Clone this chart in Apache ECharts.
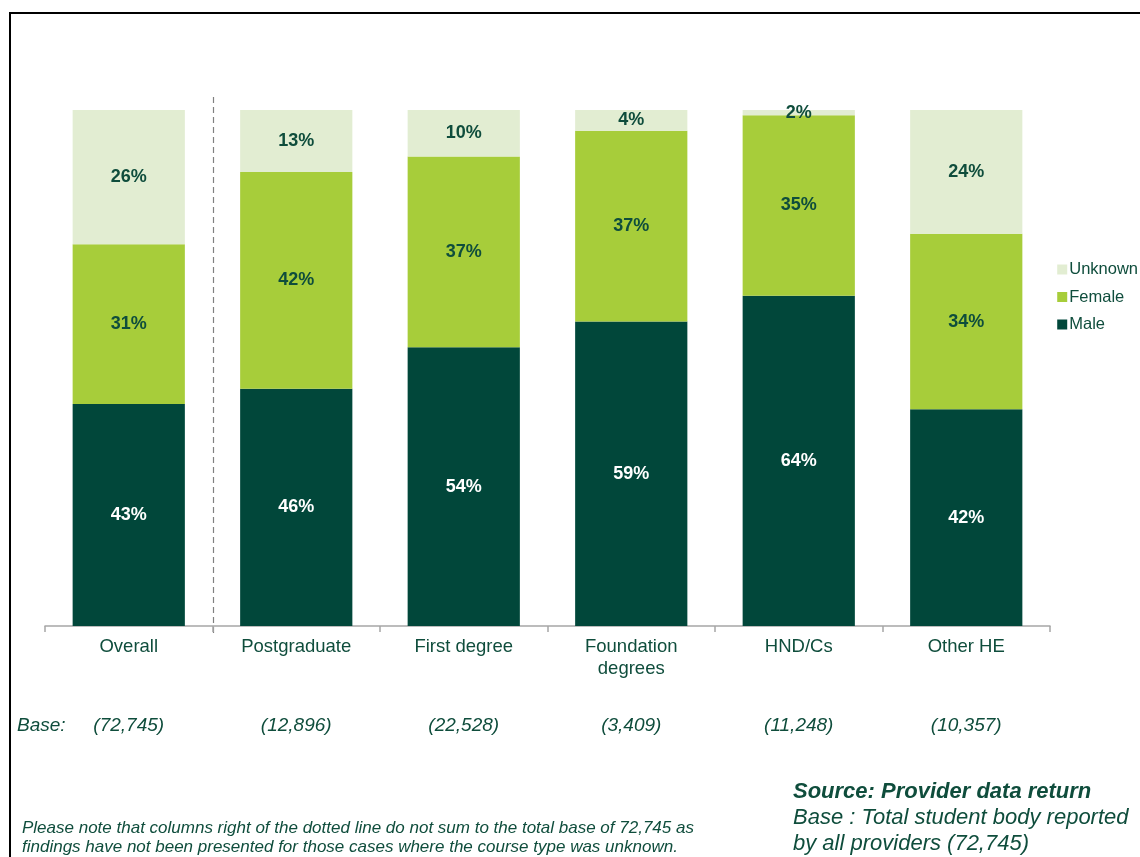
<!DOCTYPE html>
<html>
<head>
<meta charset="utf-8">
<script src="https://cdn.jsdelivr.net/npm/echarts@6/dist/echarts.min.js"></script>
<style>
  html, body { margin: 0; padding: 0; background: #fff; }
  #chart { width: 1140px; height: 857px; }
</style>
</head>
<body>
<div id="chart"></div>
<script>
// Course types and their student bases
const categories = ['Overall', 'Postgraduate', 'First degree', 'Foundation\ndegrees', 'HND/Cs', 'Other HE'];
const baseLabels = ['(72,745)', '(12,896)', '(22,528)', '(3,409)', '(11,248)', '(10,357)'];

// Share of students by gender (%)
const male    = [43, 46, 54, 59, 64, 42];
const female  = [31, 42, 37, 37, 35, 34];
const unknown = [26, 13, 10, 4, 2, 24];

const TEXT = '#0f4d3c';
const FONT = '"Liberation Sans", Arial, sans-serif';

const chart = echarts.init(document.getElementById('chart'));

function seg(name, data, color, labelColor) {
  return {
    name: name,
    type: 'bar',
    stack: 'total',
    data: data,
    barWidth: '67%',
    itemStyle: { color: color },
    label: {
      show: true,
      position: 'inside',
      formatter: '{c}%',
      color: labelColor,
      fontFamily: FONT,
      fontWeight: 'bold',
      fontSize: 18
    },
    emphasis: { disabled: true }
  };
}

chart.setOption({
  animation: false,
  textStyle: { fontFamily: FONT },
  grid: { left: 45, right: 90, top: 110, bottom: 231, containLabel: false },
  legend: {
    orient: 'vertical',
    right: -3,
    top: 256,
    itemWidth: 10,
    itemHeight: 10,
    itemGap: 10.5,
    icon: 'rect',
    data: ['Unknown', 'Female', 'Male'],
    textStyle: { color: TEXT, fontSize: 16.5, fontFamily: FONT, padding: [0, 0, 0, -3] }
  },
  xAxis: [
    {
      type: 'category',
      data: categories,
      axisLine: { lineStyle: { color: '#a6a6a6', width: 1.5 } },
      axisTick: { show: true, length: 6, lineStyle: { color: '#a6a6a6', width: 1.5 } },
      axisLabel: { color: TEXT, fontSize: 18.5, fontFamily: FONT, margin: 10, lineHeight: 22 }
    },
    {
      type: 'category',
      data: baseLabels,
      position: 'bottom',
      offset: 82,
      axisLine: { show: false },
      axisTick: { show: false },
      axisLabel: { color: TEXT, fontSize: 19, fontStyle: 'italic', fontFamily: FONT }
    }
  ],
  yAxis: {
    type: 'value',
    min: 0,
    max: 100,
    show: false
  },
  series: [
    seg('Male', male, '#01473a', '#ffffff'),
    seg('Female', female, '#a7cd3a', TEXT),
    seg('Unknown', unknown, '#e2edd2', TEXT)
  ]
});

// Dotted divider between the overall column and the course types,
// the chart frame, and the notes below the chart
const x0 = chart.convertToPixel({ xAxisIndex: 0 }, 0);
const x1 = chart.convertToPixel({ xAxisIndex: 0 }, 1);
const divX = Math.round((x0 + x1) / 2) + 0.5;
const yTop = chart.convertToPixel({ yAxisIndex: 0 }, 100);
const yBottom = chart.convertToPixel({ yAxisIndex: 0 }, 0);

chart.setOption({
  graphic: [
    {
      type: 'line',
      shape: { x1: divX, y1: yTop - 13, x2: divX, y2: yBottom + 9 },
      style: { stroke: '#808080', lineWidth: 1.2, lineDash: [6, 4] },
      silent: true
    },
    {
      type: 'polyline',
      shape: { points: [[10, 857], [10, 13], [1140, 13]] },
      style: { stroke: '#000', lineWidth: 2, fill: null },
      silent: true
    },
    {
      type: 'text',
      left: 17,
      top: 716,
      style: { text: 'Base:', fill: TEXT, font: 'italic 19px ' + FONT }
    },
    {
      type: 'text',
      left: 22,
      top: 819,
      style: {
        text: 'Please note that columns right of the dotted line do not sum to the total base of 72,745 as\nfindings have not been presented for those cases where the course type was unknown.',
        fill: TEXT,
        font: 'italic 17px ' + FONT,
        lineHeight: 19
      }
    },
    {
      type: 'text',
      left: 793,
      top: 781,
      style: { text: 'Source: Provider data return', fill: TEXT, font: 'italic bold 22px ' + FONT }
    },
    {
      type: 'text',
      left: 793,
      top: 805,
      style: {
        text: 'Base : Total student body reported\nby all providers (72,745)',
        fill: TEXT,
        font: 'italic 22px ' + FONT,
        lineHeight: 26
      }
    }
  ]
});
</script>
</body>
</html>
